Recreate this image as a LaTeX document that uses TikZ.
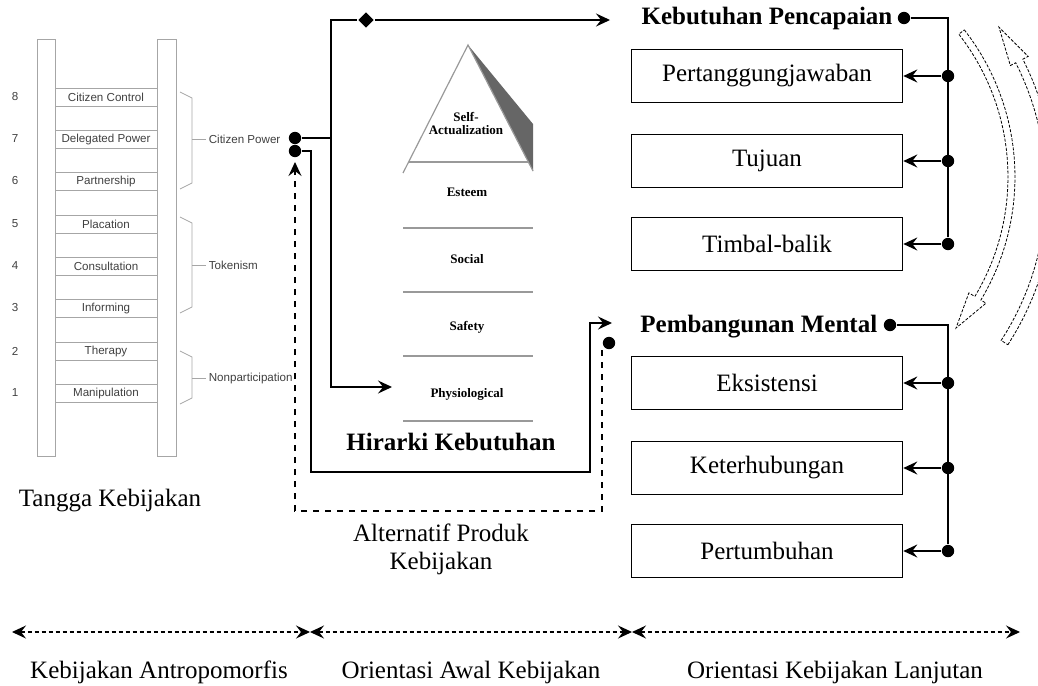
\documentclass[tikz,border=0pt]{standalone}
\usepackage{fontspec}
\setmainfont{Liberation Serif}
\newfontfamily\ladderfont{Liberation Sans}
\usepackage{tikz}
\usetikzlibrary{arrows.meta,positioning,calc,shapes.geometric}

\begin{document}
\begin{tikzpicture}[x=0.5pt,y=-0.5pt,line width=0.8pt,>={Stealth[length=7pt,width=6.5pt,inset=2.5pt]},
rung/.style={draw=gray!70,line width=0.4pt,minimum width=51pt,minimum height=9pt,inner sep=0pt,font=\ladderfont\fontsize{5.8}{6}\selectfont,text=black!75},
lnum/.style={inner sep=1pt,font=\ladderfont\fontsize{5.8}{6}\selectfont,text=black!75},
lline/.style={draw=gray!70,line width=0.4pt},
pyr/.style={align=center,font=\bfseries\fontsize{6.5}{6.5}\selectfont},
pline/.style={draw=gray!80,line width=0.6pt},
kotak/.style={draw,line width=0.8pt,minimum width=135.5pt,minimum height=26.5pt,font=\fontsize{12.5}{14}\selectfont},
judul/.style={inner sep=1pt,font=\bfseries\fontsize{12.5}{14}\selectfont},
teks/.style={align=center,font=\fontsize{12.5}{14}\selectfont},
titik/.style={circle,fill,inner sep=0pt,minimum size=6.2pt},
panah/.style={draw,line width=0.4pt,dash pattern=on 1.5pt off 0.8pt,fill=white}]
\useasboundingbox (0,0) rectangle (1038,685);

\draw[lline] (37,39) rectangle (55,456);
\draw[lline] (157,39) rectangle (176,456);
\node[rung] (r8) at (106,97) {Citizen Control};
\node[rung] (r7) at (106,139) {Delegated Power};
\node[rung] (r6) at (106,181) {Partnership};
\node[rung] (r5) at (106,224) {Placation};
\node[rung] (r4) at (106,266) {Consultation};
\node[rung] (r3) at (106,308) {Informing};
\node[rung] (r2) at (106,351) {Therapy};
\node[rung] (r1) at (106,393) {Manipulation};
\node[lnum] (n8) at (15,97) {8};
\node[lnum] (n7) at (15,139) {7};
\node[lnum] (n6) at (15,181) {6};
\node[lnum] (n5) at (15,224) {5};
\node[lnum] (n4) at (15,266) {4};
\node[lnum] (n3) at (15,308) {3};
\node[lnum] (n2) at (15,351) {2};
\node[lnum] (n1) at (15,393) {1};

\draw[lline] (180,92) -- (192,98) -- (192,183) -- (180,189);
\draw[lline] (180,217) -- (192,223) -- (192,307) -- (180,313);
\draw[lline] (180,351) -- (192,357) -- (192,398) -- (180,404);
\node[lnum,anchor=west] (cpw) at (206,139) {Citizen Power};
\node[lnum,anchor=west] (tok) at (206,265) {Tokenism};
\node[lnum,anchor=west] (non) at (206,378) {Nonparticipation};
\draw[lline] (192,139) -- (cpw.west);
\draw[lline] (192,265) -- (tok.west);
\draw[lline] (192,378) -- (non.west);
\node[teks] (tk) at (110,501) {Tangga Kebijakan};

\fill[black!60] (468,45) -- (533,124) -- (533,171) -- cycle;
\draw[pline] (403,173) -- (468,45) -- (533,171);
\draw[pline] (409,162) -- (528,162);
\draw[pline] (403,228) -- (533,228);
\draw[pline] (403,292) -- (533,292);
\draw[pline] (403,356) -- (533,356);
\draw[pline] (403,421) -- (533,421);
\node[pyr] (sa) at (466,124) {Self-\\Actualization};
\node[pyr] (es) at (467,192) {Esteem};
\node[pyr] (so) at (467,259) {Social};
\node[pyr] (sf) at (467,327) {Safety};
\node[pyr] (ph) at (467,394) {Physiological};
\node[judul] (hk) at (451,442) {Hirarki Kebutuhan};
\node[teks] (ap) at (441,549) {Alternatif Produk\\Kebijakan};

\node[titik] (cp1) at (295,138) {};
\node[titik] (cp2) at (295,151) {};
\node[diamond,fill,inner sep=0pt,minimum size=8pt] (dm) at (366,20) {};
\coordinate (ja) at (331,20);
\coordinate (atas) at (610,20);
\coordinate (fis) at (392,387);
\coordinate (pm) at (612,323);
\draw (cp1.east) -- (cp1.east -| ja);
\draw[->] (dm.west) -- (ja) |- (fis);
\draw[->] (dm.east) -- (atas);
\draw[->] (cp2.east) -| (311,472) -| (590,323) -- (pm);
\node[titik] (pd) at (609,343) {};
\draw[dashed,line width=0.6pt,->] ([xshift=-3.5pt]pd.south) |- (295,511) -- ([yshift=-2pt]cp2.south);

\node[judul] (kp) at (767,18) {Kebutuhan Pencapaian};
\node[titik] (kpd) at (904,18) {};
\node[kotak] (b1) at (767,76) {Pertanggungjawaban};
\node[kotak] (b2) at (767,161) {Tujuan};
\node[kotak] (b3) at (767,244) {Timbal-balik};
\node[titik] (d1) at (948,76) {};
\node[titik] (d2) at (948,161) {};
\node[titik] (d3) at (948,244) {};
\draw (kpd) -| (d3);
\draw[->] (d1) -- (b1.east);
\draw[->] (d2) -- (b2.east);
\draw[->] (d3) -- (b3.east);

\node[judul,anchor=east] (pmt) at (880,327) {Pembangunan Mental};
\node[titik] (pmd) at (890,325) {};
\node[kotak] (b4) at (767,383) {Eksistensi};
\node[kotak] (b5) at (767,468) {Keterhubungan};
\node[kotak] (b6) at (767,551) {Pertumbuhan};
\node[titik] (d4) at (948,383) {};
\node[titik] (d5) at (948,468) {};
\node[titik] (d6) at (948,551) {};
\draw (pmd) -| (d6);
\draw[->] (d4) -- (b4.east);
\draw[->] (d5) -- (b5.east);
\draw[->] (d6) -- (b6.east);

\draw[panah] plot[domain=-38:31,samples=30] ({776+239*cos(\x)},{177+239*sin(\x)}) -- ({776+245*cos(31)},{177+245*sin(31)}) -- ({776+235*cos(40)},{177+235*sin(40)}) -- ({776+225*cos(31)},{177+225*sin(31)}) -- plot[domain=31:-38,samples=30] ({776+232*cos(\x)},{177+232*sin(\x)}) -- cycle;
\draw[panah] plot[domain=33:-27,samples=30] ({768+286*cos(\x)},{189+286*sin(\x)}) -- ({768+292*cos(-27)},{189+292*sin(-27)}) -- ({768+282*cos(-35)},{189+282*sin(-35)}) -- ({768+272*cos(-27)},{189+272*sin(-27)}) -- plot[domain=-27:33,samples=30] ({768+278*cos(\x)},{189+278*sin(\x)}) -- cycle;

\coordinate (g0) at (12,632);
\coordinate (g1) at (310,632);
\coordinate (g2) at (632,632);
\coordinate (g3) at (1020,632);
\draw[dash pattern=on 2pt off 1.5pt,line width=0.6pt,<->] (g0) -- (g1);
\draw[dash pattern=on 2pt off 1.5pt,line width=0.6pt,<->] (g1) -- (g2);
\draw[dash pattern=on 2pt off 1.5pt,line width=0.6pt,<->] (g2) -- (g3);
\node[teks] (l1) at (159,672) {Kebijakan Antropomorfis};
\node[teks] (l2) at (471,672) {Orientasi Awal Kebijakan};
\node[teks] (l3) at (835,672) {Orientasi Kebijakan Lanjutan};
\end{tikzpicture}
\end{document}
